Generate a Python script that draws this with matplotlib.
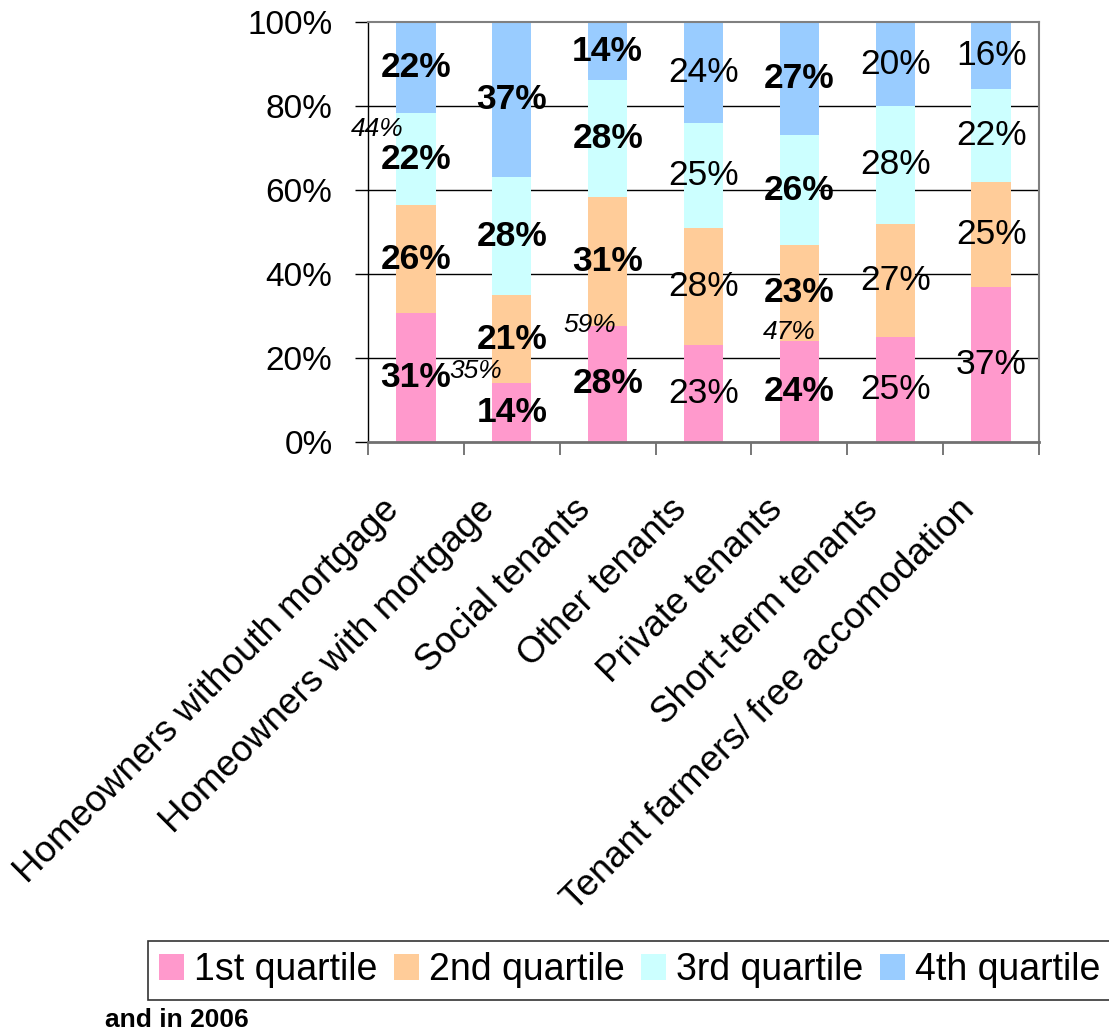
import matplotlib
matplotlib.use("Agg")
import matplotlib.pyplot as plt
from matplotlib.transforms import ScaledTranslation
import numpy as np

# ---------------- data ----------------
categories = [
    "Homeowners withouth mortgage",
    "Homeowners with mortgage",
    "Social tenants",
    "Other tenants",
    "Private tenants",
    "Short-term tenants",
    "Tenant farmers/ free accomodation",
]
series_names = ["1st quartile", "2nd quartile", "3rd quartile", "4th quartile"]
q1 = [31, 14, 28, 23, 24, 25, 37]
q2 = [26, 21, 31, 28, 23, 27, 25]
q3 = [22, 28, 28, 25, 26, 28, 22]
q4 = [22, 37, 14, 24, 27, 20, 16]
bold_bars = [True, True, True, False, True, False, False]
side_labels = ["44%", "35%", "59%", "47%"]
side_label_bars = [0, 1, 2, 4]
y_ticks = [0, 20, 40, 60, 80, 100]
y_tick_labels = ["0%", "20%", "40%", "60%", "80%", "100%"]
footer = "and in 2006"

# ---------------- style ----------------
colors = ["#FF99CC", "#FFCC99", "#CCFFFF", "#99CCFF"]
plt.rcParams["font.family"] = ["Liberation Sans", "DejaVu Sans"]

W, H = 1109, 1032
fig = plt.figure(figsize=(W / 100, H / 100), dpi=100)
ax = fig.add_axes([368 / W, 1 - 442 / H, (1039 - 368) / W, (442 - 22) / H])

series = np.array([q1, q2, q3, q4], dtype=float)
shares = series / series.sum(axis=0) * 100
x = np.arange(len(categories))
bar_w = 0.41

bottom = np.zeros(len(categories))
for i, name in enumerate(series_names):
    ax.bar(x, shares[i], bar_w, bottom=bottom, color=colors[i], label=name,
           zorder=2, linewidth=0)
    for j in range(len(categories)):
        ax.text(x[j], bottom[j] + shares[i][j] / 2, f"{int(series[i][j])}%",
                ha="center", va="center", fontsize=25.5,
                fontweight="bold" if bold_bars[j] else "normal",
                color="black", zorder=4)
    bottom += shares[i]

# leftover italic labels (positions relative to bars)
side_offsets = [(-0.40, 74.5), (-0.38, 17.0), (-0.19, 27.9), (-0.11, 26.3)]
for lab, b, (dx, yy) in zip(side_labels, side_label_bars, side_offsets):
    ax.text(x[b] + dx, yy, lab, ha="center", va="center", fontsize=19,
            fontstyle="italic", color="black", zorder=4)

ax.set_xlim(-0.5, len(categories) - 0.5)
ax.set_ylim(0, 100)

# grid
ax.set_yticks(y_ticks)
ax.set_yticklabels(y_tick_labels, fontsize=24)
for yv in y_ticks[1:-1]:
    ax.axhline(yv, color="black", linewidth=1.0, zorder=1)

ax.tick_params(axis="y", direction="out", length=9.5, width=1, color="black", pad=16)

ax.set_xticks(x)
ax.set_xticklabels(categories, fontsize=26.5, rotation=45, ha="right", va="top",
                   rotation_mode="anchor")
ax.tick_params(axis="x", which="major", length=0, pad=36)
shift = ScaledTranslation(-25 / 72, 0, fig.dpi_scale_trans)
for lbl in ax.get_xticklabels():
    lbl.set_transform(lbl.get_transform() + shift)
ax.set_xticks(np.arange(-0.5, len(categories), 1.0), minor=True)
ax.tick_params(axis="x", which="minor", direction="out", length=9, width=1.2,
               color="#606060")

for side in ["top", "right"]:
    ax.spines[side].set_color("#808080")
    ax.spines[side].set_linewidth(1.5)
ax.spines["bottom"].set_color("#707070")
ax.spines["bottom"].set_linewidth(2)
ax.spines["left"].set_color("black")
ax.spines["left"].set_linewidth(1)

# legend
leg = fig.legend(loc="upper left", bbox_to_anchor=(148 / W, 1 - 941 / H),
                 ncol=4, fontsize=27, frameon=True, fancybox=False,
                 edgecolor="black", handlelength=0.67, handleheight=0.67,
                 handletextpad=0.27, columnspacing=0.43, borderpad=0.3,
                 borderaxespad=0)
leg.get_frame().set_linewidth(1.2)

fig.text(105 / W, 1 - 1027 / H, footer, fontsize=19, fontweight="bold",
         ha="left", va="baseline")

fig.savefig("out.png", dpi=100)
